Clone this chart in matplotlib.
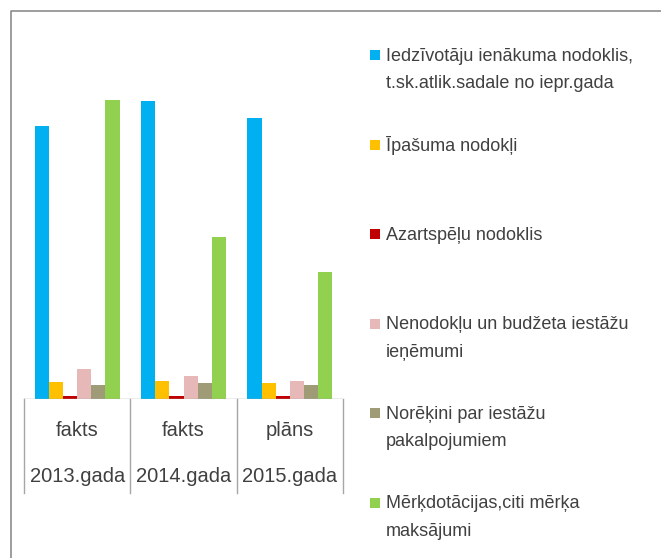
import matplotlib
matplotlib.use("Agg")
import matplotlib.pyplot as plt
from matplotlib.lines import Line2D
from matplotlib.patches import Rectangle
import numpy as np

# ---- data (relative heights; no value axis shown) ----
years = ["2013.gada", "2014.gada", "2015.gada"]
kinds = ["fakts", "fakts", "plāns"]
series_names = [
    "Iedzīvotāju ienākuma nodoklis,\nt.sk.atlik.sadale no iepr.gada",
    "Īpašuma nodokļi",
    "Azartspēļu nodoklis",
    "Nenodokļu un budžeta iestāžu\nieņēmumi",
    "Norēķini par iestāžu\npakalpojumiem",
    "Mērķdotācijas,citi mērķa\nmaksājumi",
]
iin = [273.3, 298.3, 281.3]
ipasuma = [17.3, 18.3, 16.3]
azarts = [3.0, 3.0, 3.0]
nenodoklu = [30.6, 23.6, 18.3]
norekini = [14.6, 16.3, 14.6]
merkdot = [299.3, 162.3, 127.3]
series_values = [iin, ipasuma, azarts, nenodoklu, norekini, merkdot]
colors = ["#00B0F0", "#FFC000", "#C00000", "#E6B9B8", "#A09B77", "#92D050"]

W, H = 661, 558
fig = plt.figure(figsize=(W / 100, H / 100), dpi=100)

def fx(px):
    return px / W

def fy(py):
    return 1 - py / H

text_color = "#404040"
grid_color = "#A6A6A6"

# plot area
x_left, x_right = 24, 343
y_base, y_top = 399.3, 11
ax = fig.add_axes([fx(x_left), fy(y_base), fx(x_right - x_left), (y_base - y_top) / H])
ax.set_xlim(-0.5, 2.5)
ax.set_ylim(0, y_base - y_top)
ax.axis("off")

n = len(series_values)
bw = 0.133
x = np.arange(len(years))
for i, (vals, c) in enumerate(zip(series_values, colors)):
    ax.bar(x + (i - (n - 1) / 2) * bw, vals, width=bw, color=c, linewidth=0)

# category table below the axis
ax.axhline(0, color=grid_color, linewidth=1.0, xmin=0, xmax=1)
table_bottom = 492.7
for k in range(len(years) + 1):
    xp = x_left + k * (x_right - x_left) / len(years)
    fig.add_artist(Line2D([fx(xp), fx(xp)], [fy(y_base), fy(table_bottom)],
                          color=grid_color, linewidth=1.0))
for k, (kind, yr) in enumerate(zip(kinds, years)):
    xc = x_left + (k + 0.5) * (x_right - x_left) / len(years)
    fig.text(fx(xc), fy(431), kind, ha="center", va="center", fontsize=14.5,
             family="Liberation Sans", color=text_color)
    fig.text(fx(xc), fy(477), yr, ha="center", va="center", fontsize=14.5,
             family="Liberation Sans", color=text_color)

# legend (drawn manually to match the layout)
leg_y0, leg_dy = 55, 89.6
for i, (name, c) in enumerate(zip(series_names, colors)):
    yc = leg_y0 + i * leg_dy
    fig.add_artist(Rectangle((fx(370), fy(yc + 5)), fx(10), 10 / H,
                             facecolor=c, edgecolor="none"))
    for j, line in enumerate(name.split("\n")):
        fig.text(fx(386), fy(yc + 1 + j * 27.5), line, ha="left", va="center",
                 fontsize=13, family="Liberation Sans", color=text_color)

# outer frame (only the top and left edges are visible in the crop)
fig.add_artist(Line2D([fx(11), fx(11), 1.0], [0.0, fy(11.3), fy(11.3)],
                      color="#8C8C8C", linewidth=1.2))

fig.savefig("out.png", dpi=100)
